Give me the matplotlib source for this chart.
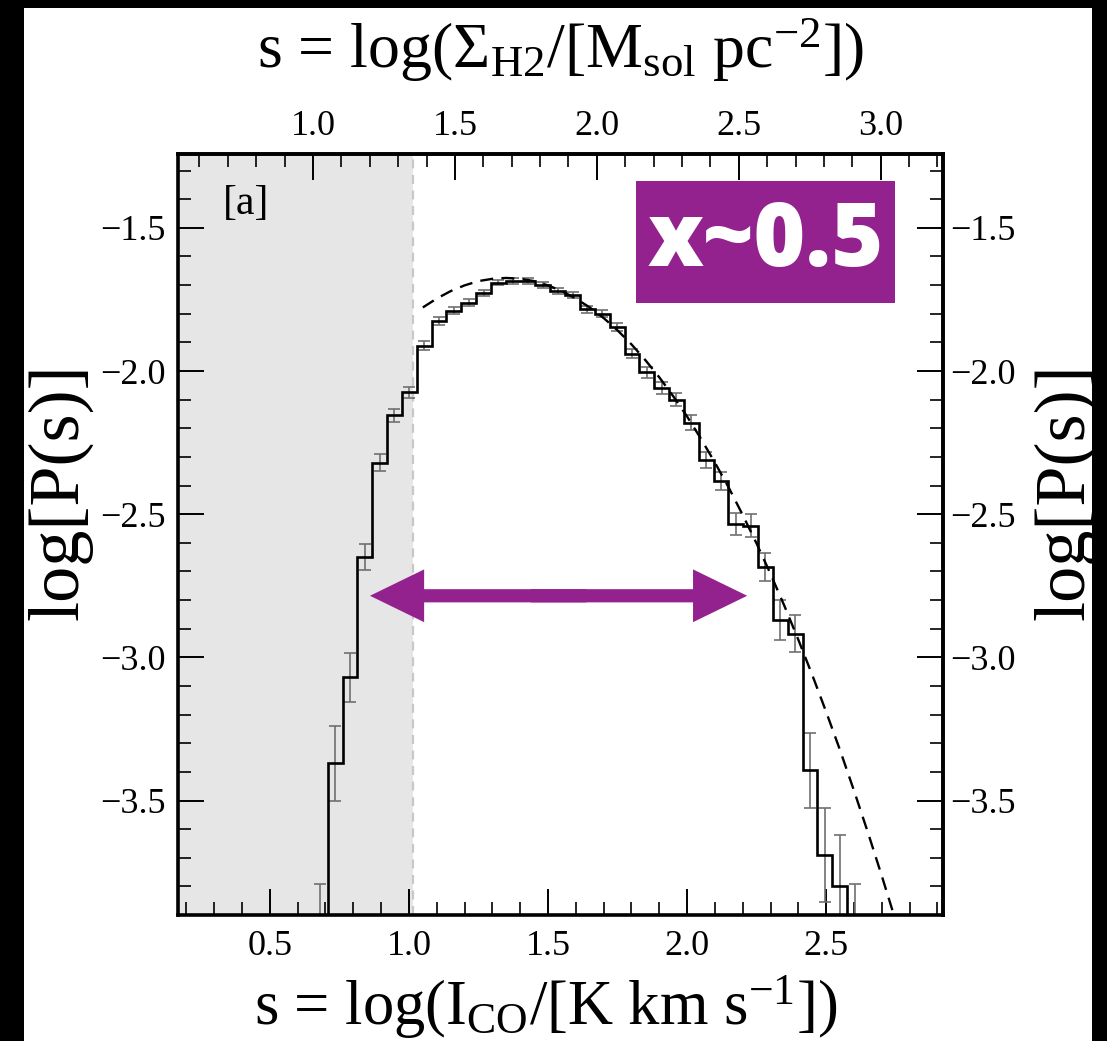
import numpy as np
import matplotlib
matplotlib.use("Agg")
import matplotlib.pyplot as plt
from matplotlib.ticker import MultipleLocator
from matplotlib.patches import Rectangle, FancyArrowPatch

plt.rcParams['font.family'] = ['Liberation Serif', 'DejaVu Serif']
plt.rcParams['mathtext.fontset'] = 'custom'
plt.rcParams['mathtext.rm'] = 'Liberation Serif'
plt.rcParams['mathtext.it'] = 'Liberation Serif:italic'
plt.rcParams['mathtext.bf'] = 'Liberation Serif:bold'

# ---- PDF of s = log(I_CO): uniform bins ----
first_edge = 0.6546
bin_width = 0.05335
log_p = [-4.000, -3.370, -3.070, -2.650, -2.320, -2.155, -2.075, -1.912,
         -1.825, -1.790, -1.761, -1.728, -1.691, -1.685, -1.685, -1.700,
         -1.720, -1.735, -1.785, -1.800, -1.846, -1.940, -2.005, -2.060,
         -2.100, -2.180, -2.310, -2.383, -2.534, -2.540, -2.685, -2.871,
         -2.918, -3.395, -3.690, -3.800, -4.000]
log_p_err = [0.21, 0.13, 0.085, 0.045, 0.030, 0.022, 0.020, 0.016,
             0.014, 0.012, 0.011, 0.010, 0.010, 0.010, 0.010, 0.010,
             0.010, 0.011, 0.012, 0.013, 0.014, 0.016, 0.018, 0.020,
             0.022, 0.025, 0.028, 0.032, 0.038, 0.040, 0.050, 0.070,
             0.065, 0.130, 0.165, 0.180, 0.210]

# ---- log-normal fit (dashed) ----
fit_s = [1.05, 1.10, 1.15, 1.20, 1.25, 1.30, 1.35, 1.40, 1.45, 1.50, 1.55,
         1.60, 1.65, 1.70, 1.75, 1.80, 1.85, 1.90, 1.95, 2.00, 2.05, 2.10,
         2.15, 2.20, 2.25, 2.30, 2.35, 2.40, 2.45, 2.50, 2.55, 2.60, 2.65,
         2.70, 2.75]
fit_logp = [-1.778, -1.747, -1.721, -1.701, -1.686, -1.678, -1.675, -1.678,
            -1.686, -1.701, -1.721, -1.747, -1.778, -1.815, -1.858, -1.907,
            -1.962, -2.022, -2.088, -2.159, -2.237, -2.320, -2.408, -2.503,
            -2.603, -2.709, -2.821, -2.939, -3.062, -3.191, -3.325, -3.466,
            -3.612, -3.764, -3.921]

# completeness limit (shaded below)
s_limit = 1.015
# width of the PDF indicated by the arrow
arrow_s = (0.86, 2.216)
arrow_logp = -2.785

# I_CO -> Sigma_H2 conversion for the top axis
conv_scale, conv_offset = 0.98, 0.358

xlim = (0.17, 2.92)
ylim = (-3.90, -1.242)
purple = '#93228F'
tick_size = 26

fig = plt.figure(figsize=(11.07, 10.41), dpi=100)
fig.patch.set_facecolor('white')
ax = fig.add_axes([0.1608, 0.1210, 0.6911, 0.7311])

edges = first_edge + bin_width * np.arange(len(log_p) + 1)
centers = 0.5 * (edges[:-1] + edges[1:])

ax.axvspan(xlim[0], s_limit, color='#e6e6e6', zorder=0, lw=0)
ax.axvline(s_limit, color='#c8c8c8', lw=1.6, dashes=(4, 3), zorder=1)

ax.errorbar(centers, log_p, yerr=log_p_err, fmt='none', ecolor='#707070',
            elinewidth=1.2, capsize=4, capthick=1.2, zorder=2)
ax.stairs(log_p, edges, baseline=None, color='black', lw=1.9, zorder=3)
ax.plot(fit_s, fit_logp, color='black', lw=1.7, dashes=(5.5, 3.5), zorder=4)

ax.set_xlim(*xlim)
ax.set_ylim(*ylim)

for side in ax.spines.values():
    side.set_linewidth(2.6)

ax.xaxis.set_major_locator(MultipleLocator(0.5))
ax.xaxis.set_minor_locator(MultipleLocator(0.1))
ax.yaxis.set_major_locator(MultipleLocator(0.5))
ax.yaxis.set_minor_locator(MultipleLocator(0.1))
ax.tick_params(which='both', direction='in', top=False, right=False,
               labelsize=tick_size)
ax.tick_params(which='major', length=19, width=1.4)
ax.tick_params(which='minor', length=9.5, width=1.2)
ax.tick_params(axis='x', pad=11)
ax.tick_params(axis='y', pad=9)

# top axis in Sigma_H2
top = ax.secondary_xaxis('top', functions=(lambda s: s * conv_scale + conv_offset,
                                           lambda t: (t - conv_offset) / conv_scale))
top.xaxis.set_major_locator(MultipleLocator(0.5))
top.xaxis.set_minor_locator(MultipleLocator(0.1))
top.tick_params(which='both', direction='in', labelsize=tick_size, pad=8)
top.tick_params(which='major', length=19, width=1.4)
top.tick_params(which='minor', length=9.5, width=1.2)
top.spines['top'].set_linewidth(2.6)
top.set_xlabel(r's = log($\Sigma_{\rm H2}$/[M$_{\rm sol}$ pc$^{-2}$])', fontsize=46, labelpad=30)

# mirrored right axis
right = ax.secondary_yaxis('right')
right.yaxis.set_major_locator(MultipleLocator(0.5))
right.yaxis.set_minor_locator(MultipleLocator(0.1))
right.tick_params(which='both', direction='in', labelsize=tick_size, pad=5)
right.tick_params(which='major', length=19, width=1.4)
right.tick_params(which='minor', length=9.5, width=1.2)
right.spines['right'].set_linewidth(2.6)

ax.set_xlabel(r's = log(I$_{\rm CO}$/[K km s$^{-1}$])', fontsize=45)
ax.xaxis.set_label_coords(0.48, -0.076)
ax.xaxis.label.set_verticalalignment('top')

ax.set_ylabel('log[P(s)]', fontsize=52)
right.set_ylabel('log[P(s)]', fontsize=52)
for lab_axis, xpos in [(ax.yaxis, -0.154), (right.yaxis, 1.161)]:
    lab_axis.label.set_rotation(90)
    lab_axis.label.set_rotation_mode('default')
    lab_axis.label.set_horizontalalignment('center')
    lab_axis.label.set_verticalalignment('center')
    lab_axis.set_label_coords(xpos, 0.556, transform=ax.transAxes)

ax.text(0.33, -1.415, '[a]', fontsize=30, va='center', ha='left')

# double-headed arrow marking the log-normal range
mid = 0.5 * (arrow_s[0] + arrow_s[1])
overlap = 0.1
for start, tip in [(mid + overlap, arrow_s[0]), (mid - overlap, arrow_s[1])]:
    ax.add_patch(FancyArrowPatch((start, arrow_logp), (tip, arrow_logp),
                                 arrowstyle='simple,head_length=39,head_width=38,tail_width=9.5',
                                 mutation_scale=1, color=purple, lw=0,
                                 shrinkA=0, shrinkB=0, zorder=6, clip_on=False))

# annotation badge
fig.patches.append(Rectangle((0.5745, 0.7089), 0.234, 0.1172, transform=fig.transFigure,
                             facecolor=purple, edgecolor='none', zorder=5))
fig.text(0.6915, 0.7665, 'x~0.5', fontsize=64, fontweight='heavy', color='white',
         family='Open Sans', ha='center', va='center', zorder=6)

# dark frame around the panel
for rect in [(0, 0, 24 / 1107, 1), (0, 1 - 8 / 1041, 1, 8 / 1041), (1092 / 1107, 0, 15 / 1107, 1)]:
    fig.patches.append(Rectangle(rect[:2], rect[2], rect[3], transform=fig.transFigure,
                                 facecolor='black', edgecolor='none', zorder=10))

fig.savefig('out.png', dpi=100, facecolor='white')
